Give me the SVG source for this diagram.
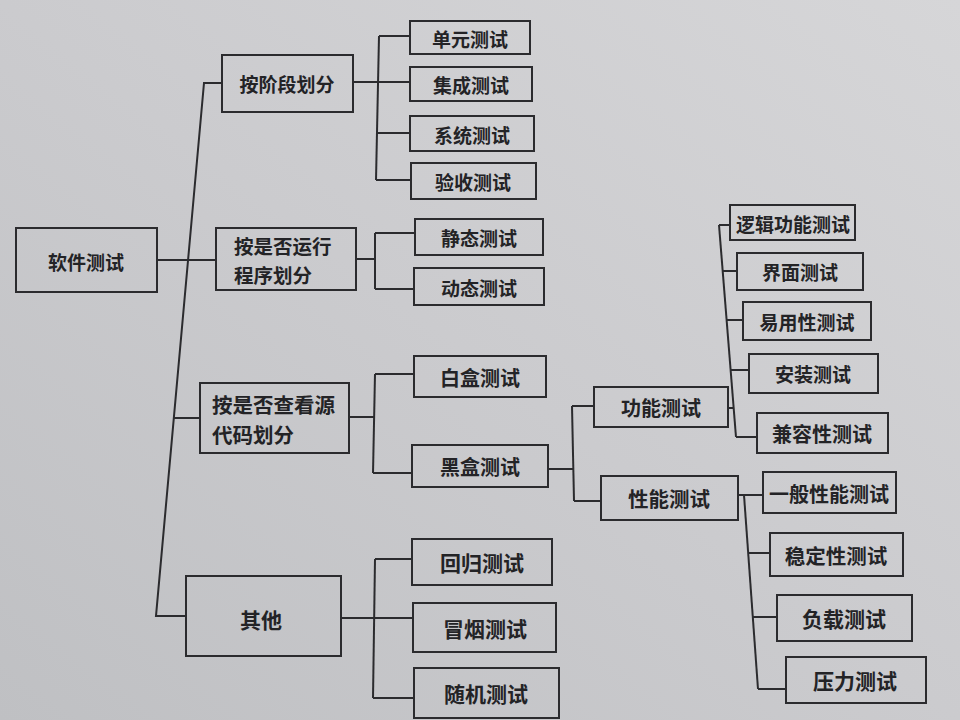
<svg xmlns="http://www.w3.org/2000/svg" width="960" height="720" viewBox="0 0 960 720">
<defs>
<linearGradient id="paper" x1="1" y1="0" x2="0" y2="1">
<stop offset="0" stop-color="#d6d6d8"/>
<stop offset="0.5" stop-color="#cbcbce"/>
<stop offset="1" stop-color="#bfc0c3"/>
</linearGradient>
<style>
.box{fill:none;stroke:#2b2b2e;stroke-width:2}
.t{font-family:"Noto Sans CJK SC","Noto Sans",sans-serif;font-weight:600;fill:#232326;text-anchor:middle;dominant-baseline:central;font-size:19px}
.tl{text-anchor:start}
.c line,.c polyline{stroke:#2b2b2e;stroke-width:2;fill:none}
</style>
</defs>
<rect width="960" height="720" fill="url(#paper)"/>
<g class="c" id="connectors">
<polyline points="223,83 204,83 156,616 186,616"/>
<line x1="157" y1="260" x2="216" y2="260"/>
<line x1="174" y1="418" x2="200" y2="418"/>
<line x1="353" y1="82" x2="410" y2="82"/>
<line x1="379" y1="36" x2="376" y2="180"/>
<line x1="379" y1="36" x2="410" y2="36"/>
<line x1="377" y1="133" x2="410" y2="133"/>
<line x1="376" y1="180" x2="411" y2="180"/>
<line x1="356" y1="259" x2="375" y2="259"/>
<line x1="375" y1="233" x2="375" y2="289"/>
<line x1="375" y1="233" x2="415" y2="233"/>
<line x1="375" y1="289" x2="414" y2="289"/>
<line x1="349" y1="417" x2="375" y2="417"/>
<line x1="375" y1="374" x2="373" y2="473"/>
<line x1="375" y1="374" x2="414" y2="374"/>
<line x1="373" y1="473" x2="412" y2="473"/>
<line x1="341" y1="618" x2="413" y2="618"/>
<line x1="375" y1="559" x2="373" y2="698"/>
<line x1="375" y1="559" x2="412" y2="559"/>
<line x1="373" y1="698" x2="414" y2="698"/>
<line x1="548" y1="469" x2="573" y2="469"/>
<line x1="572" y1="406" x2="574" y2="501"/>
<line x1="572" y1="406" x2="594" y2="406"/>
<line x1="574" y1="501" x2="601" y2="501"/>
<line x1="728" y1="408" x2="734" y2="408"/>
<line x1="719" y1="225" x2="736" y2="437"/>
<line x1="719" y1="225" x2="730" y2="225"/>
<line x1="723" y1="271" x2="737" y2="271"/>
<line x1="727" y1="320" x2="743" y2="320"/>
<line x1="731" y1="370" x2="749" y2="370"/>
<line x1="736" y1="437" x2="757" y2="437"/>
<line x1="738" y1="495" x2="763" y2="495"/>
<line x1="744" y1="495" x2="758" y2="689"/>
<line x1="749" y1="553" x2="770" y2="553"/>
<line x1="753" y1="617" x2="777" y2="617"/>
<line x1="758" y1="689" x2="786" y2="689"/>
</g>
<g id="n-root"><rect class="box" x="16" y="228" width="141" height="64"/><text class="t" x="86" y="261">软件测试</text></g>
<g id="n-stage"><rect class="box" x="222" y="55" width="131" height="57"/><text class="t" x="287" y="83">按阶段划分</text></g>
<g id="n-unit"><rect class="box" x="410" y="21" width="120" height="33"/><text class="t" x="470" y="38">单元测试</text></g>
<g id="n-integ"><rect class="box" x="410" y="67" width="122" height="34"/><text class="t" x="471" y="84">集成测试</text></g>
<g id="n-system"><rect class="box" x="410" y="116" width="124" height="35"/><text class="t" x="472" y="134">系统测试</text></g>
<g id="n-accept"><rect class="box" x="411" y="163" width="125" height="36"/><text class="t" x="473" y="181">验收测试</text></g>
<g id="n-run"><rect class="box" x="216" y="228" width="140" height="62"/><text class="t tl" style="font-size:19.5px"><tspan x="234" y="245">按是否运行</tspan><tspan x="234" y="274">程序划分</tspan></text></g>
<g id="n-static"><rect class="box" x="415" y="219" width="128" height="36"/><text class="t" x="479" y="237">静态测试</text></g>
<g id="n-dynamic"><rect class="box" x="414" y="268" width="130" height="37"/><text class="t" x="479" y="287">动态测试</text></g>
<g id="n-source"><rect class="box" x="200" y="383" width="149" height="70"/><text class="t tl" style="font-size:20.5px"><tspan x="212" y="404">按是否查看源</tspan><tspan x="212" y="434">代码划分</tspan></text></g>
<g id="n-white"><rect class="box" x="414" y="356" width="132" height="41"/><text class="t" x="480" y="377" style="font-size:20px">白盒测试</text></g>
<g id="n-black"><rect class="box" x="412" y="445" width="136" height="42"/><text class="t" x="480" y="466" style="font-size:20px">黑盒测试</text></g>
<g id="n-other"><rect class="box" x="186" y="576" width="155" height="80"/><text class="t" x="261" y="619" style="font-size:21px">其他</text></g>
<g id="n-regress"><rect class="box" x="412" y="539" width="140" height="46"/><text class="t" x="482" y="562" style="font-size:21px">回归测试</text></g>
<g id="n-smoke"><rect class="box" x="413" y="603" width="143" height="49"/><text class="t" x="485" y="628" style="font-size:21px">冒烟测试</text></g>
<g id="n-random"><rect class="box" x="414" y="668" width="145" height="50"/><text class="t" x="486" y="693" style="font-size:21px">随机测试</text></g>
<g id="n-func"><rect class="box" x="594" y="387" width="134" height="40"/><text class="t" x="661" y="407" style="font-size:20px">功能测试</text></g>
<g id="n-perf"><rect class="box" x="601" y="476" width="137" height="44"/><text class="t" x="669" y="498" style="font-size:20.5px">性能测试</text></g>
<g id="n-logic"><rect class="box" x="730" y="205" width="125" height="35"/><text class="t" x="793" y="223">逻辑功能测试</text></g>
<g id="n-ui"><rect class="box" x="737" y="253" width="126" height="37"/><text class="t" x="800" y="271">界面测试</text></g>
<g id="n-usab"><rect class="box" x="743" y="302" width="128" height="38"/><text class="t" x="807" y="321">易用性测试</text></g>
<g id="n-install"><rect class="box" x="749" y="354" width="129" height="39"/><text class="t" x="813" y="373">安装测试</text></g>
<g id="n-compat"><rect class="box" x="757" y="413" width="131" height="40"/><text class="t" x="822" y="433" style="font-size:20px">兼容性测试</text></g>
<g id="n-general"><rect class="box" x="763" y="472" width="133" height="41"/><text class="t" x="829" y="493" style="font-size:20px">一般性能测试</text></g>
<g id="n-stable"><rect class="box" x="770" y="533" width="133" height="43"/><text class="t" x="836" y="555" style="font-size:20.5px">稳定性测试</text></g>
<g id="n-load"><rect class="box" x="777" y="595" width="135" height="46"/><text class="t" x="844" y="618" style="font-size:21px">负载测试</text></g>
<g id="n-stress"><rect class="box" x="786" y="657" width="140" height="46"/><text class="t" x="855" y="680" style="font-size:21px">压力测试</text></g>
</svg>
